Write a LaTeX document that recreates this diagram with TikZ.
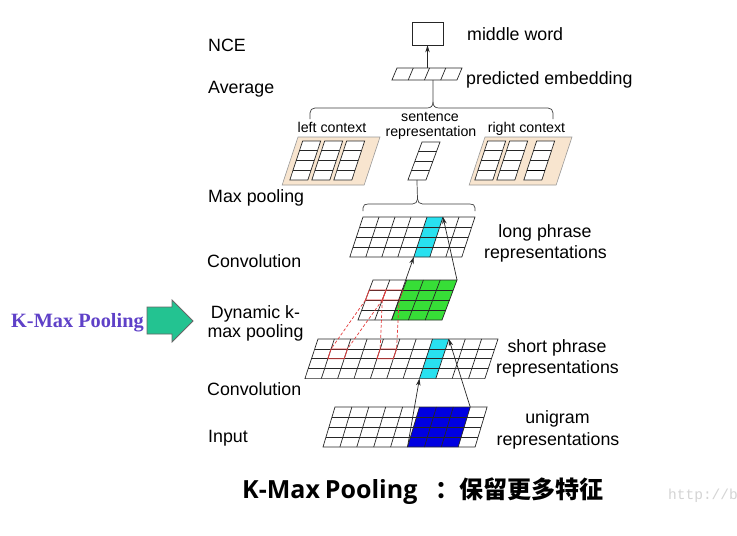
\documentclass[tikz,border=0pt]{standalone}
\usepackage{fontspec}
\setmainfont{Liberation Sans}
\newfontfamily\cjkfont{Noto Sans CJK SC}
\newfontfamily\titlelat{Open Sans}
\newfontfamily\serifbold{Liberation Serif}
\newfontfamily\monofont{Liberation Mono}
\usetikzlibrary{arrows.meta}

\definecolor{cyanc}{RGB}{40,225,240}
\definecolor{greenc}{RGB}{55,222,55}
\definecolor{bluec}{RGB}{0,0,225}
\definecolor{peach}{RGB}{248,229,207}
\definecolor{kmax}{RGB}{95,65,200}
\definecolor{arrowgreen}{RGB}{35,195,145}
\definecolor{redc}{RGB}{228,60,60}

\tikzset{
  gridline/.style={draw=black!85, line width=0.7pt},
  redline/.style={draw=redc, line width=0.8pt},
  reddash/.style={draw=redc, line width=0.7pt, dash pattern=on 3pt off 2pt},
  arr/.style={draw=black!85, line width=0.7pt, -{Stealth[length=7pt,width=4.5pt]}},
  bracepath/.style={draw=black!75, line width=0.7pt},
  blockfill/.style={fill=peach, draw=black!40, line width=0.6pt},
  lab/.style={inner sep=0pt, font=\fontsize{17.8}{20}\selectfont},
  smalllab/.style={inner sep=0pt, font=\fontsize{14.2}{16}\selectfont},
}

% grid of #1 columns, #2 rows, cell width #3, cell height #4 (local coords)
\newcommand\cellgrid[4]{%
  \pgfmathtruncatemacro\ngc{#1-1}%
  \pgfmathtruncatemacro\ngr{#2-1}%
  \ifnum\ngc>0 \foreach \ii in {1,...,\ngc} {\draw[gridline] (\ii*#3,0) -- (\ii*#3,#2*#4);}\fi
  \ifnum\ngr>0 \foreach \jj in {1,...,\ngr} {\draw[gridline] (0,\jj*#4) -- (#1*#3,\jj*#4);}\fi
  \draw[gridline] (0,0) rectangle (#1*#3,#2*#4);
}
% column of 4 cells at local x #1, width #2, from v=4 to v=43
\newcommand\colcells[2]{%
  \fill[white] (#1,4) rectangle (#1+#2,43);
  \foreach \kk in {1,2,3} {\draw[gridline] (#1,4+\kk*9.75) -- (#1+#2,4+\kk*9.75);}
  \draw[gridline] (#1,4) rectangle (#1+#2,43);
}

\begin{document}
\begin{tikzpicture}[x=1pt,y=-1pt]
\useasboundingbox (0,0) rectangle (737,536);
\fill[white] (0,0) rectangle (737,536);

% ---------------- left labels ----------------
\node[lab, anchor=base west] (lNCE) at (208,51) {NCE};
\node[lab, anchor=base west] (lAvg) at (208,93) {Average};
\node[lab, anchor=base west] (lMax) at (208,202) {Max pooling};
\node[lab, anchor=base west] (lConvA) at (207,267) {Convolution};
\node[lab, anchor=base] (lDyn) at (255.5,318) {Dynamic k-};
\node[lab, anchor=base] (lDynB) at (255.5,337) {max pooling};
\node[lab, anchor=base west] (lConvB) at (207,395) {Convolution};
\node[lab, anchor=base west] (lInput) at (208,442) {Input};

% ---------------- right labels ----------------
\node[lab, anchor=base west] (rMid) at (467,40) {middle word};
\node[lab, anchor=base west] (rPred) at (466,84) {predicted embedding};
\node[lab, anchor=base] (rLongA) at (545,237) {long phrase};
\node[lab, anchor=base] (rLongB) at (545.5,258) {representations};
\node[lab, anchor=base] (rShortA) at (557,352) {short phrase};
\node[lab, anchor=base] (rShortB) at (557.5,373) {representations};
\node[lab, anchor=base] (rUniA) at (557.5,423) {unigram};
\node[lab, anchor=base] (rUniB) at (558,445) {representations};

% ---------------- small labels ----------------
\node[smalllab, anchor=base] (sLeft) at (332,132) {left context};
\node[smalllab, anchor=base] (sSentA) at (430,121) {sentence};
\node[smalllab, anchor=base] (sSentB) at (431,136) {representation};
\node[smalllab, anchor=base] (sRight) at (526.5,132) {right context};

% ---------------- middle word box & embedding ----------------
\node[draw=black!85, line width=0.8pt, fill=white, minimum width=31pt, minimum height=23pt, inner sep=0pt] (mw) at (427.5,33.5) {};
\begin{scope}[shift={(397,68)}, xslant=0.42]
  \fill[white] (0,0) rectangle (65,12);
  \cellgrid{4}{1}{16.25}{12}
  \coordinate (embTop) at (30.5,0);
  \coordinate (embBot) at (41,12);
\end{scope}
\draw[arr] (embTop) -- (mw.south);

% ---------------- upper brace ----------------
\coordinate (ubTip) at (433,102);
\draw[bracepath] (310,119) -- (310,113) .. controls (310,110) and (312,108) .. (315,108) -- (427,108) .. controls (431,108) and (433,106) .. (ubTip);
\draw[bracepath] (ubTip) .. controls (433,106) and (435,108) .. (439,108) -- (548,108) .. controls (551,108) and (553,110) .. (553,113) -- (553,119);
\draw[bracepath] (ubTip) -- (embBot);

% ---------------- context blocks ----------------
\begin{scope}[shift={(298,137)}, xslant=0.33]
  \filldraw[blockfill] (0,0) rectangle (82,48);
  \colcells{6}{18}
  \colcells{28}{18}
  \colcells{50}{18}
\end{scope}
\begin{scope}[shift={(485,137)}, xslant=0.33]
  \filldraw[blockfill] (0,0) rectangle (87,48);
  \colcells{4}{18}
  \colcells{26}{18}
  \colcells{53}{18}
  \draw[draw=black, line width=1.4pt] (53,33.25) -- (71,33.25);
\end{scope}

% sentence representation column
\begin{scope}[shift={(422,142)}, xslant=0.37]
  \fill[white] (0,0) rectangle (18,38);
  \cellgrid{1}{4}{18}{9.5}
  \coordinate (sentBot) at (9,38);
\end{scope}

% ---------------- lower brace ----------------
\coordinate (lbTip) at (417.5,199);
\draw[bracepath] (363,211) -- (363,208) .. controls (363,205) and (365,204) .. (368,204) -- (412.5,204) .. controls (415.5,204) and (417.5,202) .. (lbTip);
\draw[bracepath] (lbTip) .. controls (417.5,202) and (419.5,204) .. (422.5,204) -- (470,204) .. controls (473,204) and (475,205) .. (475,208) -- (475,211);
\draw[bracepath] (lbTip) -- (sentBot);

% ---------------- long phrase grid ----------------
\begin{scope}[shift={(363,217)}, xslant=0.33]
  \fill[white] (0,0) rectangle (112,40);
  \fill[cyanc] (64,0) rectangle (80,40);
  \cellgrid{7}{4}{16}{10}
  \coordinate (lgBL) at (64,40);
  \coordinate (lgTR) at (80,0);
\end{scope}

% ---------------- pooled grid ----------------
\begin{scope}[shift={(373,280)}, xslant=0.375]
  \fill[white] (0,0) rectangle (84,40);
  \fill[greenc] (33.6,0) rectangle (84,40);
  \cellgrid{5}{4}{16.8}{10}
  \draw[redline] (0,10) rectangle (16.8,20);
  \draw[redline] (16.8,10) rectangle (33.6,20);
  \coordinate (gnBL) at (33.6,40);
  \coordinate (gnTR) at (84,0);
  \coordinate (pA) at (0,20);
  \coordinate (pB) at (16.8,20);
  \coordinate (pC) at (33.6,20);
\end{scope}

% ---------------- short phrase grid ----------------
\begin{scope}[shift={(318,339)}, xslant=0.33]
  \fill[white] (0,0) rectangle (180,39.6);
  \fill[cyanc] (114.52,0) rectangle (130.88,39.6);
  \cellgrid{11}{4}{16.36}{9.9}
  \draw[redline] (16.36,9.9) rectangle (32.72,19.8);
  \draw[redline] (65.44,9.9) rectangle (81.8,19.8);
  \coordinate (shBL) at (114.52,39.6);
  \coordinate (shTR) at (130.88,0);
  \coordinate (sA) at (16.36,9.9);
  \coordinate (sB) at (32.72,9.9);
  \coordinate (sC) at (65.44,9.9);
  \coordinate (sD) at (81.8,9.9);
\end{scope}

% ---------------- input grid ----------------
\begin{scope}[shift={(335,407)}, xslant=0.3]
  \fill[white] (0,0) rectangle (152.1,40);
  \fill[bluec] (84.5,0) rectangle (135.2,40);
  \cellgrid{9}{4}{16.9}{10}
  \coordinate (inBL) at (84.5,40);
  \coordinate (inTR) at (135.2,0);
\end{scope}

% ---------------- dashed k-max links ----------------
\draw[reddash] (pA) -- (sA);
\draw[reddash] (pB) -- (sB);
\draw[reddash] (pB) -- (sC);
\draw[reddash] (pC) -- (sD);

% ---------------- arrows ----------------
\draw[arr] (inBL) -- (shBL);
\draw[arr] (inTR) -- (shTR);
\draw[arr] (gnBL) -- (lgBL);
\draw[arr] (gnTR) -- (lgTR);

% ---------------- K-Max Pooling callout ----------------
\node[anchor=base west, inner sep=0pt, text=kmax, font=\serifbold\bfseries\fontsize{20.3}{24}\selectfont] (kmaxlab) at (11,327) {K-Max Pooling};
\filldraw[fill=arrowgreen, draw=black!60, line width=0.8pt] (147,307) -- (172,307) -- (172,300) -- (193,321) -- (172,342) -- (172,334) -- (147,334) -- cycle;

% ---------------- title ----------------
\node[anchor=base west, inner sep=0pt] (title) at (242,498) {{\titlelat\bfseries\fontsize{25}{29}\selectfont K-Max\hspace{-1.5pt} Pooling}\hspace{18pt}{\cjkfont\bfseries\fontsize{24}{28}\selectfont ：保留更多特征}};

% ---------------- watermark ----------------
\node[anchor=base west, inner sep=0pt, text=black!17, font=\monofont\fontsize{14.5}{16}\selectfont] (wm) at (668,499) {http://b};
\end{tikzpicture}
\end{document}
